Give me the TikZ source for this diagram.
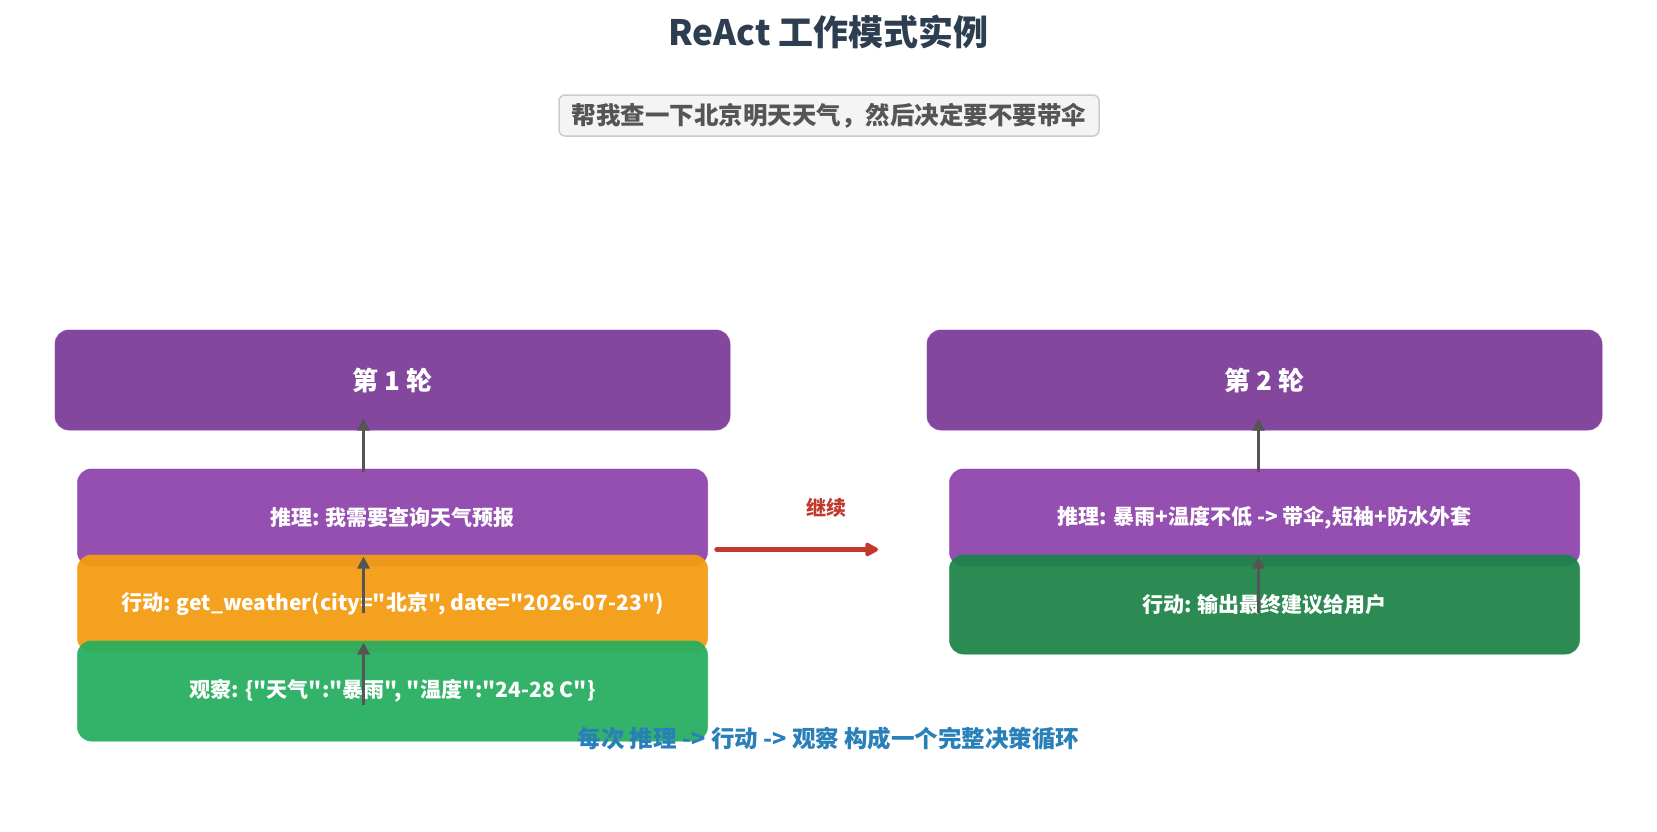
\documentclass[tikz,border=0pt]{standalone}
\usepackage{fontspec}
\setmainfont{Noto Sans CJK SC}[Ligatures=TeXOff]
\usetikzlibrary{arrows.meta}
\definecolor{titlec}{HTML}{2C3E50}
\definecolor{subtxt}{HTML}{555555}
\definecolor{subfill}{HTML}{F4F4F4}
\definecolor{subdraw}{HTML}{CCCCCC}
\definecolor{hdrc}{HTML}{7D3C98}
\definecolor{reac}{HTML}{8E44AD}
\definecolor{actc}{HTML}{F39C12}
\definecolor{obsc}{HTML}{27AE60}
\definecolor{fin}{HTML}{1E8449}
\definecolor{arrowgray}{HTML}{555555}
\definecolor{redc}{HTML}{C0392B}
\definecolor{bluec}{HTML}{2980B9}
\tikzset{
  card/.style={rounded corners=14pt, fill opacity=0.94, text opacity=1, draw opacity=0.6,
    line width=1pt, text=white, inner sep=0pt, font=\bfseries\fontsize{21}{25}\selectfont},
  hdrbox/.style={card, fill=hdrc, draw=reac, minimum width=675pt, minimum height=100pt,
    font=\bfseries\fontsize{26}{30}\selectfont},
  stepbox/.style={card, minimum width=630pt, minimum height=97pt},
  flow/.style={draw=arrowgray, line width=3pt, -{Triangle[length=12pt,width=12pt]}},
  contarrow/.style={draw=redc, line width=5.5pt, line cap=round, -{Triangle[length=15pt,width=15pt,round]}}
}
\begin{document}
\begin{tikzpicture}[x=1pt,y=-1pt]
\useasboundingbox[fill=white] (0,0) rectangle (1657,831);

\node[font=\bfseries\fontsize{35}{40}\selectfont, text=titlec] (title) at (828.5,32) {ReAct 工作模式实例};
\node[draw=subdraw, line width=1.5pt, fill=subfill, rounded corners=6pt, minimum width=540pt,
  minimum height=41pt, inner sep=0pt, text=subtxt, font=\bfseries\fontsize{24.5}{28}\selectfont]
  (query) at (829,115.5) {帮我查一下北京明天天气，然后决定要不要带伞};

% Round 1
\node[hdrbox] (h1) at (392.5,380) {第 1 轮};
\node[stepbox, fill=reac, draw=reac] (r1) at (392.5,517.5) {推理: 我需要查询天气预报};
\node[stepbox, fill=actc, draw=actc] (a1) at (392.5,603.5) {行动: get\_weather(city="北京", date="2026-07-23")};
\node[stepbox, fill=obsc, draw=obsc, minimum height=100pt] (o1) at (392.5,691) {观察: \{"天气":"暴雨", "温度":"24-28 C"\}};

% Round 2
\node[hdrbox] (h2) at (1264.5,380) {第 2 轮};
\node[stepbox, fill=reac, draw=reac] (r2) at (1264.5,517.5) {推理: 暴雨+温度不低 -> 带伞,短袖+防水外套};
\node[stepbox, fill=fin, draw=fin, minimum height=99pt] (a2) at (1264.5,604.5) {行动: 输出最终建议给用户};

% vertical arrows
\draw[flow] ([xshift=-29pt,yshift=-3pt]r1.north) -- ([xshift=-29pt,yshift=12pt]h1.south);
\draw[flow] ([xshift=-29pt,yshift=-58pt]a1.north) -- ([xshift=-29pt,yshift=-2pt]a1.north);
\draw[flow] ([xshift=-29pt,yshift=-64pt]o1.north) -- ([xshift=-29pt,yshift=-2pt]o1.north);
\draw[flow] ([xshift=-6pt,yshift=-3pt]r2.north) -- ([xshift=-6pt,yshift=12pt]h2.south);
\draw[flow] ([xshift=-6pt,yshift=-58pt]a2.north) -- ([xshift=-6pt,yshift=-2pt]a2.north);

% continue arrow
\draw[contarrow] ([xshift=9pt,yshift=-32pt]r1.east) -- ([xshift=-71pt,yshift=-32pt]r2.west)
  node[pos=0.68, yshift=42pt, text=redc, font=\bfseries\fontsize{20}{24}\selectfont] (cont) {继续};

\node[text=bluec, font=\bfseries\fontsize{23.5}{28}\selectfont] (note) at (828.5,739)
  {每次 推理 -> 行动 -> 观察 构成一个完整决策循环};
\end{tikzpicture}
\end{document}
